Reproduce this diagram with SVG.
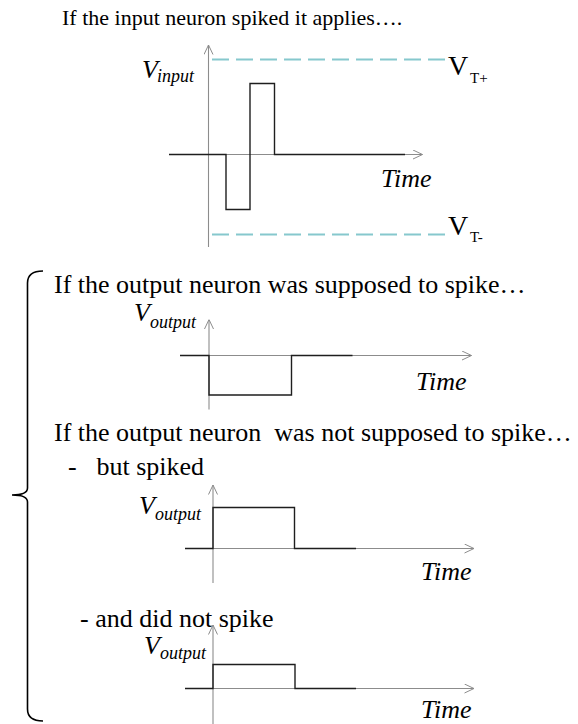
<svg xmlns="http://www.w3.org/2000/svg" width="578" height="724" viewBox="0 0 578 724">
  <style>
    .txt { font-family: "Liberation Serif", "Times New Roman", serif; font-size: 26px; fill: #000; }
    .head1 { font-size: 22px; }
    .it { font-style: italic; }
    .sub { font-size: 18px; }
    .vt { font-size: 28px; }
    .vtsub { font-size: 15px; }
    .axis { stroke: #8c8c8c; stroke-width: 1.1; fill: none; marker-end: url(#chev); }
    .sig { stroke: #1e1e1e; stroke-width: 1.4; fill: none; stroke-linejoin: miter; }
    .thr { stroke: #86c8cd; stroke-width: 2.2; stroke-dasharray: 17 7; fill: none; }
    .brace { stroke: #000; stroke-width: 1.6; fill: none; }
  </style>
  <defs>
    <marker id="chev" viewBox="0 0 10 10" refX="10" refY="5" markerWidth="10" markerHeight="10" markerUnits="userSpaceOnUse" orient="auto">
      <path d="M0.5,0.5 L10,5 L0.5,9.5" fill="none" stroke="#8c8c8c" stroke-width="1"/>
    </marker>
  </defs>

  <rect width="578" height="724" fill="#fff"/>

  <!-- Input neuron panel -->
  <g id="input-panel">
    <text class="txt head1" x="62" y="25">If the input neuron spiked it applies….</text>
    <line class="thr" x1="212" y1="59.5" x2="445" y2="59.5"/>
    <line class="thr" x1="212" y1="234.5" x2="445" y2="234.5"/>
    <line class="axis" x1="208.5" y1="247" x2="208.5" y2="45"/>
    <line class="axis" x1="169" y1="154.5" x2="422.5" y2="154.5"/>
    <polyline class="sig" points="169,154.5 226,154.5 226,209.5 250,209.5 250,83.5 274.5,83.5 274.5,154.5 405,154.5"/>
    <text class="txt it" x="142" y="78">V<tspan class="sub" x="157" y="82">input</tspan></text>
    <text class="txt it" x="381" y="186.5">Time</text>
    <text class="txt vt" x="448" y="75">V<tspan class="vtsub" x="470" y="82.5">T+</tspan></text>
    <text class="txt vt" x="448" y="235">V<tspan class="vtsub" x="470" y="241.5">T-</tspan></text>
  </g>

  <!-- Output neuron: supposed to spike -->
  <g id="output-expected">
    <text class="txt" x="54" y="292.5">If the output neuron was supposed to spike…</text>
    <line class="axis" x1="209" y1="409.5" x2="209" y2="319.5"/>
    <line class="axis" x1="180" y1="355.5" x2="471.5" y2="355.5"/>
    <polyline class="sig" points="180,355.5 209,355.5 209,395 291.5,395 291.5,355.5 352.5,355.5"/>
    <text class="txt it" x="134" y="321">V<tspan class="sub" x="150" y="328">output</tspan></text>
    <text class="txt it" x="416" y="390">Time</text>
  </g>

  <!-- Output neuron: not supposed to spike -->
  <g id="output-unexpected">
    <text class="txt" x="54" y="440.5" xml:space="preserve">If the output neuron  was not supposed to spike…</text>
  </g>

  <g id="but-spiked">
    <text class="txt" x="68" y="475">-</text>
    <text class="txt" x="96.5" y="475">but spiked</text>
    <line class="axis" x1="213" y1="583" x2="213" y2="485"/>
    <line class="axis" x1="185" y1="548.5" x2="474" y2="548.5"/>
    <polyline class="sig" points="185,548.5 213,548.5 213,507.5 294.5,507.5 294.5,548.5 356,548.5"/>
    <text class="txt it" x="139" y="514">V<tspan class="sub" x="155" y="520">output</tspan></text>
    <text class="txt it" x="421" y="580">Time</text>
  </g>

  <g id="did-not-spike">
    <text class="txt" x="80" y="626.5">- and did not spike</text>
    <line class="axis" x1="213" y1="724" x2="213" y2="625"/>
    <line class="axis" x1="185" y1="688.5" x2="474" y2="688.5"/>
    <polyline class="sig" points="185,688.5 213,688.5 213,664.5 295,664.5 295,688.5 356,688.5"/>
    <text class="txt it" x="144" y="654">V<tspan class="sub" x="160" y="659">output</tspan></text>
    <text class="txt it" x="421" y="718">Time</text>
  </g>

  <!-- Curly brace grouping the output cases -->
  <g id="brace">
    <path class="brace" d="M43,271 Q27.5,271 27.5,283 L27.5,488 Q27.5,495 12,495 Q27.5,495 27.5,502 L27.5,709 Q27.5,721 43,721"/>
  </g>
</svg>
